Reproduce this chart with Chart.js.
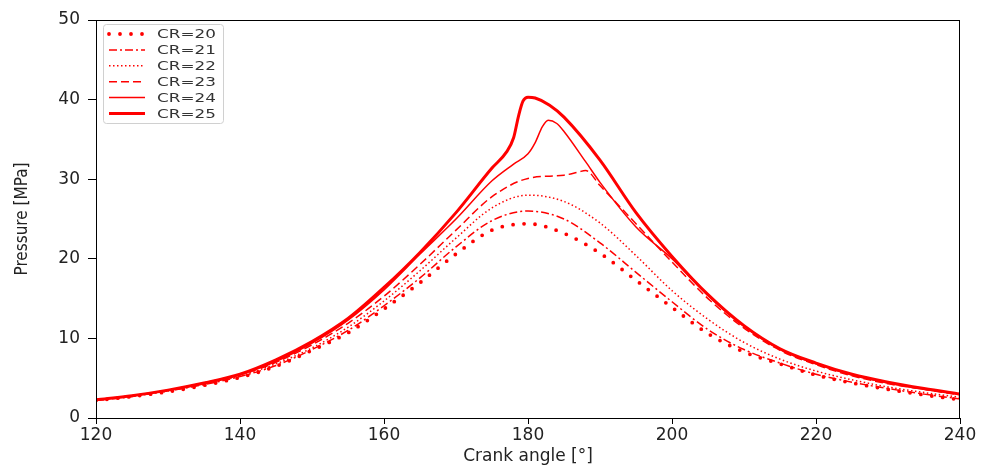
<!DOCTYPE html>
<html>
<head>
<meta charset="utf-8">
<script src="https://cdn.jsdelivr.net/npm/chart.js@4/dist/chart.umd.min.js"></script>
<style>
html, body { margin: 0; padding: 0; background: #fff; }
</style>
</head>
<body>
<canvas id="pressureChart" width="987" height="468"></canvas>
<script>
// crank angle [deg] and pressure [MPa]
const angles = [120,125,130,135,140,145,150,155,160,165,170,175,180,185,190,195,200,205,210,215,220,225,230,235,240];
const cr20 = [2.2,2.7,3.3,4.1,5.1,6.5,8.5,10.7,13.7,17.0,20.6,23.6,24.4,23.2,20.7,17.3,13.9,10.6,8.3,6.8,5.4,4.4,3.6,2.9,2.3];
const cr21 = [2.2,2.7,3.4,4.2,5.2,6.6,8.6,11.0,14.1,17.6,21.5,24.8,26.0,25.0,22.0,18.3,14.6,11.1,8.6,6.9,5.5,4.5,3.7,3.0,2.4];
const cr22 = [2.3,2.8,3.4,4.3,5.3,6.8,8.8,11.4,14.7,18.5,22.6,26.4,28.0,27.2,24.5,20.4,16.0,12.4,9.5,7.4,5.9,4.8,3.9,3.2,2.6];

const angles23 = [120,125,130,135,140,145,150,155,160,165,170,175,180,185,187,188,190,195,200,205,210,215,220,225,230,235,240];
const cr23 = [2.3,2.8,3.5,4.4,5.4,7.0,9.2,11.9,15.3,19.3,23.6,27.8,30.1,30.5,30.9,31.1,29.2,24.4,19.6,15.0,11.3,8.5,6.7,5.3,4.3,3.6,2.9];

const angles24 = [120,125,130,135,140,145,150,155,160,165,170,175,178,180,181,182,182.8,184,185,188,190,195,200,205,210,215,220,225,230,235,240];
const cr24 = [2.3,2.8,3.5,4.4,5.5,7.1,9.4,12.3,16.1,20.6,25.0,29.8,31.9,33.2,34.6,36.6,37.4,37.0,36.0,32.2,29.6,24.0,20.0,15.4,11.5,8.6,6.8,5.4,4.4,3.6,3.0];

const angles25 = [120,125,130,135,140,145,150,155,160,165,170,175,177,178,178.7,179.3,180,181,183,185,190,195,200,205,210,215,220,225,230,235,240];
const cr25 = [2.3,2.8,3.5,4.4,5.5,7.3,9.6,12.5,16.4,20.8,25.8,31.4,33.4,35.2,38.0,39.8,40.3,40.2,39.3,37.8,32.4,25.8,20.3,15.5,11.6,8.7,6.9,5.5,4.5,3.7,3.0];

const seriesLabels = ['CR=20','CR=21','CR=22','CR=23','CR=24','CR=25'];
const xTicks = [120,140,160,180,200,220,240];
const yTicks = [0,10,20,30,40,50];

const RED = 'rgb(255,0,0)';

function toPoints(xs, ys) {
    return xs.map((x, i) => ({ x: x, y: ys[i] }));
}

function lineSet(label, xs, ys, width, dash, cap) {
    return {
        label: label,
        data: toPoints(xs, ys),
        borderColor: RED,
        borderWidth: width,
        borderDash: dash,
        borderCapStyle: cap || 'butt',
        pointRadius: 0,
        fill: false,
        cubicInterpolationMode: 'monotone'
    };
}

// box around the plot and a matplotlib style legend in the corner
const framePlugin = {
    id: 'frame',
    afterDraw(chart) {
        const ctx = chart.ctx;
        const a = chart.chartArea;
        ctx.save();
        ctx.strokeStyle = '#000';
        ctx.lineWidth = 1;
        ctx.strokeRect(a.left + 0.5, a.top + 0.5, a.right - a.left - 1, a.bottom - a.top);

        // legend
        const bx = 103, by = 24, bw = 120, bh = 99;
        ctx.fillStyle = 'rgba(255,255,255,0.85)';
        ctx.strokeStyle = '#d0d0d0';
        ctx.beginPath();
        ctx.roundRect(bx + 0.5, by + 0.5, bw, bh, 3);
        ctx.fill();
        ctx.stroke();

        chart.data.datasets.forEach((ds, i) => {
            const y = 34 + i * 15.9;
            ctx.save();
            ctx.strokeStyle = ds.borderColor;
            ctx.lineWidth = ds.borderWidth;
            ctx.lineCap = ds.borderCapStyle;
            ctx.setLineDash(ds.borderDash);
            ctx.beginPath();
            ctx.moveTo(109, y);
            ctx.lineTo(145, y);
            ctx.stroke();
            ctx.restore();

            ctx.save();
            ctx.translate(157, y);
            ctx.scale(1.4, 1);
            ctx.fillStyle = '#333';
            ctx.font = '12px "DejaVu Sans"';
            ctx.textBaseline = 'middle';
            ctx.fillText(ds.label, 0, 1);
            ctx.restore();
        });
        ctx.restore();
    }
};

new Chart(document.getElementById('pressureChart').getContext('2d'), {
    type: 'line',
    data: {
        datasets: [
            lineSet(seriesLabels[0], angles, cr20, 3.8, [0, 11], 'round'),
            lineSet(seriesLabels[1], angles, cr21, 1.5, [8, 3, 2, 3]),
            lineSet(seriesLabels[2], angles, cr22, 1.5, [1.5, 2.5]),
            lineSet(seriesLabels[3], angles23, cr23, 1.5, [8, 4]),
            lineSet(seriesLabels[4], angles24, cr24, 1.5, []),
            lineSet(seriesLabels[5], angles25, cr25, 3, [])
        ]
    },
    options: {
        responsive: false,
        animation: false,
        layout: { padding: { left: 0, right: 27, top: 20, bottom: 0 } },
        plugins: { legend: { display: false }, tooltip: { enabled: false } },
        scales: {
            x: {
                type: 'linear',
                min: 120,
                max: 240,
                afterBuildTicks: (scale) => { scale.ticks = xTicks.map(v => ({ value: v })); },
                afterFit: (scale) => { scale.height = 50; },
                ticks: { color: '#222', font: { family: 'DejaVu Sans', size: 17 }, padding: 1, maxRotation: 0 },
                grid: { display: true, drawOnChartArea: false, drawTicks: true, tickLength: 6, color: '#000' },
                border: { display: true, color: '#000', width: 1 },
                title: { display: true, text: 'Crank angle [°]', color: '#222', font: { family: 'DejaVu Sans', size: 17 }, padding: { top: 0, bottom: 1 } }
            },
            y: {
                min: 0,
                max: 50,
                afterBuildTicks: (scale) => { scale.ticks = yTicks.map(v => ({ value: v })); },
                afterFit: (scale) => { scale.width = 96; },
                ticks: { color: '#222', font: { family: 'DejaVu Sans', size: 17 }, padding: 8 },
                grid: { display: true, drawOnChartArea: false, drawTicks: true, tickLength: 8, color: '#000' },
                border: { display: true, color: '#000', width: 1 },
                title: { display: true, text: 'Pressure [MPa]', color: '#222', font: { family: '"Liberation Sans Narrow", "DejaVu Sans Condensed", sans-serif', size: 17 }, padding: { top: 12, bottom: 0 } }
            }
        }
    },
    plugins: [framePlugin]
});
</script>
</body>
</html>
